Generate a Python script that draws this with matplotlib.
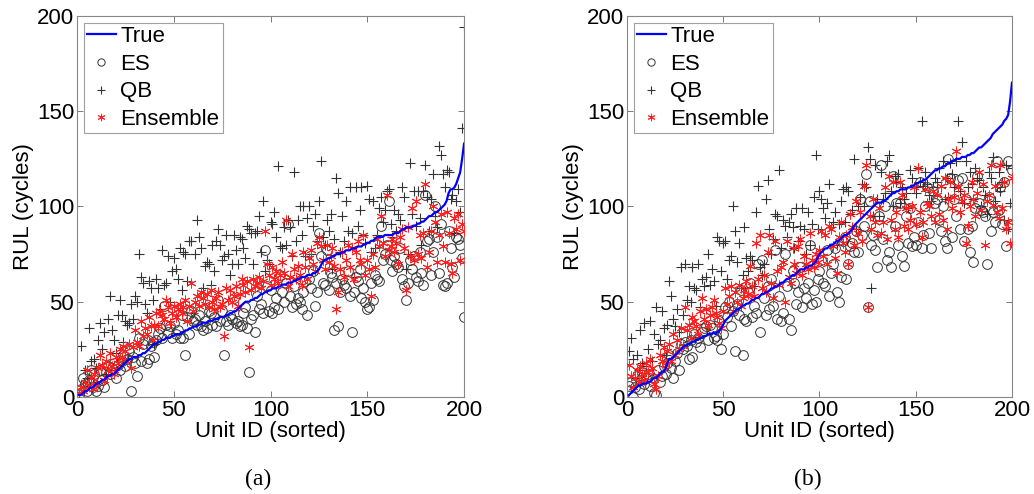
import matplotlib
matplotlib.use("Agg")
import matplotlib.pyplot as plt
import numpy as np

plt.rcParams['font.family'] = ['Liberation Sans', 'DejaVu Sans']

units = list(range(1, 201))

# ---------------- panel (a) ----------------
true_a = [1, 1, 2, 3, 3, 4, 5, 5, 6, 7,
          7, 8, 9, 9, 10, 11, 11, 12, 12, 13,
          14, 15, 16, 17, 18, 19, 20, 20, 21, 21,
          21, 22, 22, 23, 23, 24, 25, 26, 27, 28,
          28, 29, 29, 30, 30, 31, 31, 31, 32, 32,
          33, 33, 33, 34, 34, 35, 35, 36, 36, 37,
          37, 37, 38, 38, 39, 39, 39, 40, 40, 40,
          41, 41, 41, 42, 42, 42, 43, 43, 44, 44,
          45, 45, 46, 47, 48, 49, 50, 50, 50, 51,
          51, 52, 52, 53, 54, 54, 55, 55, 56, 56,
          57, 57, 57, 58, 58, 59, 59, 59, 60, 60,
          60, 61, 61, 62, 62, 63, 63, 63, 64, 64,
          64, 65, 65, 66, 67, 69, 71, 72, 72, 73,
          73, 74, 74, 75, 75, 75, 76, 76, 77, 77,
          77, 78, 78, 78, 79, 79, 79, 80, 80, 81,
          81, 82, 82, 83, 84, 84, 84, 84, 85, 85,
          85, 85, 85, 86, 86, 86, 87, 88, 88, 89,
          89, 89, 89, 90, 90, 91, 91, 92, 92, 93,
          94, 95, 95, 96, 97, 97, 98, 99, 100, 101,
          103, 107, 109, 109, 110, 112, 115, 118, 125, 133]

es_a = [1, 4, 10, 7, 3, 9, 14, 5, 12, 3,
        6, 14, 9, 5, 13, 16, 12, 15, 18, 10,
        17, 14, 19, 22, 16, 20, 24, 3, 21, 18,
        11, 31, 19, 28, 30, 18, 20, 27, 29, 21,
        30, 33, 36, 31, 48, 38, 34, 37, 31, 39,
        33, 35, 31, 43, 31, 22, 42, 33, 45, 40,
        41, 38, 43, 37, 35, 40, 36, 45, 44, 38,
        42, 37, 51, 40, 45, 22, 40, 38, 43, 41,
        52, 39, 40, 37, 38, 44, 47, 36, 13, 41,
        43, 34, 53, 46, 49, 44, 77, 58, 45, 56,
        44, 47, 52, 46, 64, 55, 50, 60, 91, 53,
        47, 58, 49, 52, 50, 46, 55, 61, 43, 62,
        57, 66, 48, 55, 86, 74, 60, 59, 77, 56,
        65, 63, 35, 60, 37, 55, 62, 59, 57, 66,
        53, 34, 55, 63, 61, 67, 52, 57, 50, 46,
        47, 60, 51, 64, 62, 61, 90, 72, 75, 80,
        103, 72, 66, 74, 70, 68, 78, 62, 58, 51,
        60, 72, 67, 74, 63, 61, 76, 65, 59, 106,
        82, 83, 64, 76, 100, 84, 65, 91, 59, 58,
        60, 87, 78, 68, 63, 84, 83, 80, 73, 42]

qb_a = [2, 27, 6, 14, 10, 36, 19, 8, 20, 15,
        30, 39, 25, 34, 12, 41, 53, 35, 30, 23,
        43, 51, 43, 29, 40, 38, 39, 49, 41, 53,
        50, 75, 63, 60, 49, 44, 61, 57, 51, 28,
        62, 57, 46, 77, 59, 60, 74, 50, 66, 73,
        67, 62, 78, 56, 76, 75, 61, 82, 82, 44,
        75, 93, 84, 78, 57, 69, 71, 70, 59, 80,
        66, 82, 88, 80, 72, 74, 85, 75, 64, 70,
        85, 77, 70, 84, 83, 78, 73, 90, 88, 86,
        70, 86, 87, 95, 76, 103, 66, 72, 70, 92,
        91, 97, 84, 121, 79, 78, 89, 80, 93, 89,
        74, 118, 82, 93, 100, 85, 100, 74, 94, 100,
        75, 90, 96, 82, 103, 124, 84, 80, 93, 87,
        96, 67, 83, 115, 107, 76, 95, 82, 103, 87,
        110, 86, 63, 110, 90, 98, 110, 85, 81, 111,
        104, 76, 103, 78, 85, 99, 105, 92, 98, 108,
        109, 91, 84, 98, 87, 96, 93, 110, 105, 67,
        75, 123, 96, 108, 90, 108, 94, 80, 108, 122,
        105, 87, 104, 117, 95, 89, 132, 127, 117, 110,
        119, 118, 104, 106, 86, 103, 109, 97, 141, 194]

ens_a = [2, 5, 3, 8, 14, 6, 10, 4, 12, 7,
         15, 22, 17, 9, 19, 14, 23, 16, 12, 21,
         18, 25, 21, 27, 24, 19, 28, 15, 26, 35,
         29, 27, 40, 32, 36, 33, 42, 37, 30, 38,
         44, 37, 45, 43, 41, 51, 47, 39, 44, 48,
         42, 46, 49, 44, 47, 51, 40, 48, 60, 45,
         50, 53, 48, 55, 52, 49, 54, 47, 56, 50,
         46, 52, 55, 47, 49, 32, 57, 51, 56, 50,
         53, 58, 48, 54, 62, 59, 55, 61, 26, 56,
         62, 58, 60, 63, 57, 61, 87, 70, 64, 59,
         68, 62, 66, 60, 64, 71, 65, 93, 58, 63,
         75, 67, 62, 69, 64, 59, 76, 68, 62, 73,
         77, 70, 66, 81, 84, 79, 72, 67, 80, 71,
         74, 78, 69, 46, 55, 67, 76, 63, 72, 80,
         68, 78, 62, 76, 82, 72, 70, 85, 64, 72,
         67, 53, 75, 68, 83, 79, 95, 81, 74, 106,
         77, 79, 83, 76, 81, 70, 84, 88, 78, 56,
         89, 74, 99, 72, 103, 75, 85, 73, 86, 112,
         68, 76, 87, 100, 92, 71, 85, 96, 79, 71,
         97, 86, 70, 65, 94, 88, 96, 72, 91, 87]

# ---------------- panel (b) ----------------
true_b = [1, 2, 3, 4, 5, 6, 6, 7, 7, 7,
          8, 8, 9, 10, 10, 11, 12, 13, 13, 15,
          18, 20, 20, 21, 22, 23, 24, 25, 26, 27,
          27, 28, 28, 29, 29, 30, 30, 31, 31, 32,
          32, 33, 33, 33, 34, 33, 34, 35, 36, 38,
          40, 41, 42, 43, 44, 45, 46, 46, 47, 48,
          48, 49, 49, 50, 51, 51, 52, 52, 53, 54,
          54, 55, 55, 56, 57, 57, 58, 58, 59, 60,
          60, 61, 62, 62, 63, 64, 64, 65, 66, 67,
          67, 67, 68, 68, 69, 69, 70, 71, 73, 75,
          76, 77, 78, 78, 79, 80, 80, 81, 82, 82,
          83, 84, 85, 85, 86, 87, 88, 90, 91, 92,
          93, 94, 95, 96, 97, 98, 99, 100, 101, 102,
          102, 102, 103, 103, 104, 105, 106, 107, 107, 108,
          108, 109, 109, 109, 109, 110, 110, 111, 111, 112,
          112, 113, 113, 114, 114, 115, 116, 117, 118, 119,
          119, 120, 120, 121, 121, 122, 123, 123, 124, 124,
          125, 125, 125, 126, 126, 126, 127, 127, 128, 128,
          129, 130, 131, 131, 132, 133, 134, 135, 136, 138,
          139, 140, 141, 142, 143, 145, 146, 148, 155, 165]

es_b = [6, 8, 0, 5, 11, 4, 9, 13, 7, 10,
        12, 6, 9, 2, 1, 14, 8, 11, 16, 12,
        18, 22, 15, 10, 19, 23, 14, 28, 25, 29,
        27, 20, 30, 21, 33, 29, 31, 26, 34, 36,
        37, 30, 38, 36, 31, 32, 30, 40, 25, 33,
        47, 42, 50, 37, 45, 24, 49, 43, 56, 22,
        41, 40, 55, 60, 42, 48, 44, 70, 34, 72,
        52, 43, 58, 46, 62, 48, 77, 41, 53, 40,
        44, 75, 58, 41, 35, 66, 60, 49, 55, 68,
        47, 57, 52, 60, 80, 49, 56, 50, 62, 66,
        72, 60, 58, 77, 53, 65, 70, 78, 55, 50,
        63, 82, 84, 62, 70, 79, 81, 76, 87, 76,
        104, 85, 90, 117, 47, 103, 80, 85, 77, 68,
        95, 122, 83, 100, 72, 76, 68, 116, 90, 102,
        80, 102, 74, 69, 95, 81, 99, 79, 84, 80,
        92, 113, 78, 85, 100, 110, 86, 78, 108, 102,
        104, 93, 87, 100, 82, 78, 125, 115, 84, 104,
        95, 114, 88, 115, 82, 104, 88, 76, 90, 71,
        99, 116, 102, 98, 97, 95, 70, 105, 87, 97,
        92, 124, 98, 110, 91, 113, 79, 124, 91, 119]

qb_b = [24, 31, 20, 10, 22, 14, 35, 18, 39, 16,
        25, 40, 19, 33, 47, 28, 30, 45, 36, 22,
        38, 61, 53, 41, 37, 46, 34, 68, 43, 70,
        51, 58, 50, 68, 57, 56, 70, 47, 62, 58,
        63, 75, 59, 67, 61, 48, 84, 82, 66, 81,
        82, 62, 72, 74, 100, 87, 71, 81, 57, 64,
        89, 73, 66, 74, 72, 58, 97, 111, 68, 64,
        70, 104, 114, 88, 75, 83, 96, 95, 119, 78,
        93, 90, 84, 92, 96, 89, 78, 99, 82, 90,
        99, 88, 75, 97, 80, 91, 105, 127, 88, 108,
        104, 99, 94, 102, 112, 89, 92, 97, 80, 91,
        103, 109, 92, 110, 108, 96, 98, 125, 88, 100,
        105, 112, 100, 110, 131, 125, 57, 95, 122, 104,
        95, 118, 104, 107, 124, 127, 108, 100, 116, 113,
        117, 102, 110, 104, 107, 99, 119, 115, 110, 107,
        120, 113, 145, 111, 118, 112, 106, 103, 110, 115,
        113, 120, 110, 124, 104, 115, 105, 123, 117, 110,
        124, 145, 108, 134, 102, 124, 110, 118, 112, 104,
        120, 115, 114, 100, 110, 106, 96, 118, 115, 126,
        103, 110, 118, 108, 113, 93, 122, 88, 102, 120]

ens_b = [17, 11, 5, 10, 14, 8, 16, 12, 9, 18,
         13, 20, 15, 7, 4, 11, 22, 19, 26, 17,
         24, 28, 19, 33, 22, 30, 25, 36, 27, 47,
         35, 38, 31, 42, 40, 37, 33, 45, 52, 41,
         46, 38, 43, 47, 51, 44, 42, 39, 36, 45,
         57, 49, 53, 58, 45, 55, 50, 59, 48, 52,
         56, 61, 54, 69, 58, 53, 81, 62, 85, 57,
         64, 55, 76, 85, 60, 52, 82, 66, 59, 68,
         71, 50, 82, 63, 60, 78, 70, 65, 79, 83,
         64, 74, 70, 67, 86, 72, 68, 75, 71, 77,
         87, 74, 85, 70, 90, 88, 79, 73, 65, 84,
         92, 81, 76, 85, 70, 96, 89, 80, 103, 86,
         97, 82, 111, 122, 47, 95, 88, 104, 92, 85,
         99, 86, 92, 110, 83, 116, 93, 113, 88, 97,
         84, 113, 106, 90, 99, 88, 93, 100, 110, 91,
         120, 97, 84, 92, 109, 102, 100, 95, 108, 92,
         106, 96, 111, 93, 115, 88, 104, 113, 99, 105,
         129, 110, 97, 103, 106, 81, 90, 100, 113, 104,
         95, 107, 118, 98, 112, 80, 103, 106, 122, 101,
         111, 97, 94, 122, 99, 113, 88, 92, 81, 115]

panels = [("(a)", true_a, es_a, qb_a, ens_a, [0.0745, 0.1964, 0.3743, 0.7713], 0.2495),
          ("(b)", true_b, es_b, qb_b, ens_b, [0.6064, 0.1964, 0.3723, 0.7713], 0.7814)]

fig = plt.figure(figsize=(10.34, 4.94), dpi=100)

for cap, tr, es, qb, ens, pos, capx in panels:
    ax = fig.add_axes(pos)
    ax.plot(units, tr, color='#0000ff', lw=1.6, label='True', zorder=4)
    ax.plot(units, es, ls='none', marker='o', ms=7, mfc='none', mec='#333333',
            mew=0.7, label='ES', zorder=2)
    ax.plot(units, qb, ls='none', marker='+', ms=7, mec='#333333',
            mew=0.8, label='QB', zorder=2)
    ax.plot(units, ens, ls='none', marker=(6, 2, 0), ms=7, mec='#ff2020',
            mew=0.7, label='Ensemble', zorder=3)
    ax.set_xlim(0, 200)
    ax.set_ylim(0, 200)
    ax.set_xticks([0, 50, 100, 150, 200])
    ax.set_yticks([0, 50, 100, 150, 200])
    ax.tick_params(direction='in', top=True, right=True, length=4,
                   width=0.6, color='#666666', labelsize=16, pad=2)
    for s in ax.spines.values():
        s.set_color('#888888')
        s.set_linewidth(0.8)
    ax.set_xlabel('Unit ID (sorted)', fontsize=16, labelpad=0)
    ax.set_ylabel('RUL (cycles)', fontsize=16, labelpad=2)
    leg = ax.legend(loc='upper left', fontsize=16, frameon=True, fancybox=False,
                    borderpad=0.15, labelspacing=0.3, handlelength=1.3,
                    handletextpad=0.2, borderaxespad=0.3, markerscale=0.75)
    leg.get_frame().set_edgecolor('#888888')
    leg.get_frame().set_linewidth(0.8)
    fig.text(capx, 0.03, cap, ha='center', va='center', fontsize=17,
             family=['Liberation Serif', 'DejaVu Serif'])

fig.savefig('out.png', dpi=100)
